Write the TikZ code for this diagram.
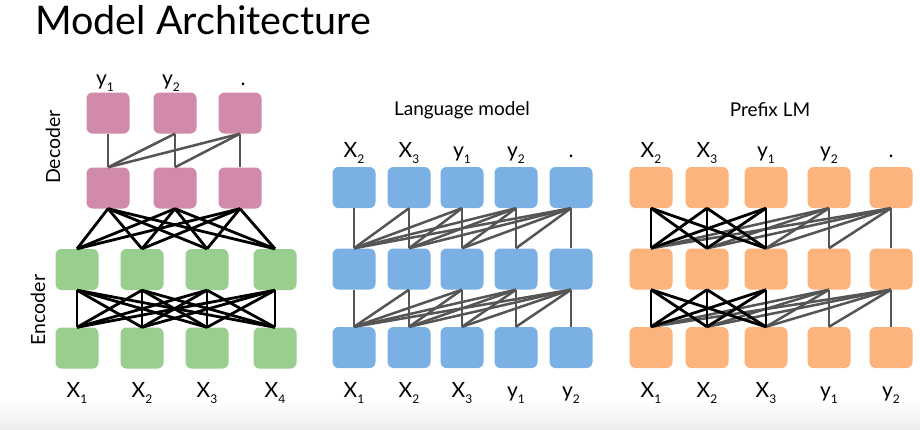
\documentclass[tikz,border=0pt]{standalone}
\usepackage{fontspec}
\setmainfont{Lato}
\usetikzlibrary{calc}
\definecolor{pinkc}{RGB}{210,138,170}
\definecolor{greenc}{RGB}{152,206,142}
\definecolor{bluec}{RGB}{122,176,228}
\definecolor{orangec}{RGB}{252,180,124}
\definecolor{greyline}{RGB}{85,85,85}
\newcommand{\lbl}[2]{#1\raisebox{-0.3em}{\fontsize{12}{12}\selectfont #2}}
\tikzset{
  cell/.style={rounded corners=6pt, minimum width=43pt, minimum height=41pt, inner sep=0pt},
  pinkcell/.style={cell, fill=pinkc},
  greencell/.style={cell, fill=greenc},
  bluecell/.style={cell, fill=bluec},
  orangecell/.style={cell, fill=orangec},
  tok/.style={font=\fontsize{21}{21}\selectfont, inner sep=0pt, anchor=base},
  glink/.style={draw=greyline, line width=2.5pt},
  blink/.style={draw=black, line width=2.8pt},
  paneltitle/.style={font=\fontsize{19}{19}\selectfont, inner sep=0pt},
  sidelabel/.style={font=\fontsize{19.5}{19.5}\selectfont, rotate=90, inner sep=0pt}
}
\begin{document}
\begin{tikzpicture}[x=1pt,y=-1pt]
\useasboundingbox (0,0) rectangle (920,429);
\fill[white] (0,0) rectangle (920,429);
\shade[top color=white, bottom color=gray!14] (0,400) rectangle (920,429);

\node[anchor=base west, inner sep=0pt, font=\fontsize{39.5}{39.5}\selectfont] (title) at (35,34) {Model Architecture};

% ---------- Encoder-decoder ----------
\node[sidelabel] (declab) at (53,147) {Decoder};
\node[sidelabel] (enclab) at (38,310) {Encoder};
\foreach \i/\x in {1/108,2/175,3/240} {
  \node[pinkcell] (dt\i) at (\x,113) {};
  \node[pinkcell] (dm\i) at (\x,188) {};
}
\foreach \i/\x in {1/77,2/142,3/207,4/275} {
  \node[greencell] (eu\i) at (\x,269.5) {};
  \node[greencell] (el\i) at (\x,348) {};
}
\node[tok] (dy1) at (105,85) {\lbl{y}{1}};
\node[tok] (dy2) at (171,85) {\lbl{y}{2}};
\node[tok] (ddot) at (243,85) {.};
\foreach \i/\x in {1/77,2/142,3/207,4/275} {
  \node[tok] (ex\i) at (\x,397) {\lbl{X}{\i}};
}
% decoder causal
\foreach \j in {1,2,3} {
  \foreach \i in {1,...,\j} {
    \draw[glink] (dt\j.south) -- (dm\i.north);
  }
}
% cross attention
\foreach \j in {1,2,3} {
  \foreach \i in {1,2,3,4} {
    \draw[blink] (dm\j.south) -- (eu\i.north);
  }
}
% encoder self-attention
\foreach \j in {1,2,3,4} {
  \foreach \i in {1,2,3,4} {
    \draw[blink] (el\j.north) -- (eu\i.south);
  }
}

% ---------- Language model ----------
\node[paneltitle] (lmtitle) at (462,110) {Language model};
\foreach \i/\x in {1/354,2/409,3/462,4/516,5/571} {
  \node[bluecell] (lt\i) at (\x,187.5) {};
  \node[bluecell] (lm\i) at (\x,269) {};
  \node[bluecell] (lb\i) at (\x,347.5) {};
}
\node[tok] (lx2) at (354,157) {\lbl{X}{2}};
\node[tok] (lx3) at (409,157) {\lbl{X}{3}};
\node[tok] (ly1) at (462,157) {\lbl{y}{1}};
\node[tok] (ly2) at (516,157) {\lbl{y}{2}};
\node[tok] (ldot) at (571,157) {.};
\node[tok] (lbx1) at (354,397) {\lbl{X}{1}};
\node[tok] (lbx2) at (409,397) {\lbl{X}{2}};
\node[tok] (lbx3) at (462,397) {\lbl{X}{3}};
\node[tok] (lby1) at (516,397) {\lbl{y}{1}};
\node[tok] (lby2) at (571,397) {\lbl{y}{2}};
\foreach \j in {1,...,5} {
  \foreach \i in {1,...,\j} {
    \draw[glink] (lt\j.south) -- (lm\i.north);
    \draw[glink] (lm\j.south) -- (lb\i.north);
  }
}

% ---------- Prefix LM ----------
\node[paneltitle] (pxtitle) at (770,110) {Prefix LM};
\foreach \i/\x in {1/651,2/707,3/766,4/829,5/891} {
  \node[orangecell] (pt\i) at (\x,187.5) {};
  \node[orangecell] (pm\i) at (\x,269) {};
  \node[orangecell] (pb\i) at (\x,347.5) {};
}
\node[tok] (px2) at (651,157) {\lbl{X}{2}};
\node[tok] (px3) at (707,157) {\lbl{X}{3}};
\node[tok] (py1) at (766,157) {\lbl{y}{1}};
\node[tok] (py2) at (829,157) {\lbl{y}{2}};
\node[tok] (pdot) at (891,157) {.};
\node[tok] (pbx1) at (651,397) {\lbl{X}{1}};
\node[tok] (pbx2) at (707,397) {\lbl{X}{2}};
\node[tok] (pbx3) at (766,397) {\lbl{X}{3}};
\node[tok] (pby1) at (829,397) {\lbl{y}{1}};
\node[tok] (pby2) at (891,397) {\lbl{y}{2}};
% causal part (grey) for outputs 4,5
\foreach \j in {4,5} {
  \foreach \i in {1,...,\j} {
    \draw[glink] (pt\j.south) -- (pm\i.north);
    \draw[glink] (pm\j.south) -- (pb\i.north);
  }
}
% full attention over prefix (black)
\foreach \j in {1,2,3} {
  \foreach \i in {1,2,3} {
    \draw[blink] (pt\j.south) -- (pm\i.north);
    \draw[blink] (pm\j.south) -- (pb\i.north);
  }
}
\end{tikzpicture}
\end{document}
